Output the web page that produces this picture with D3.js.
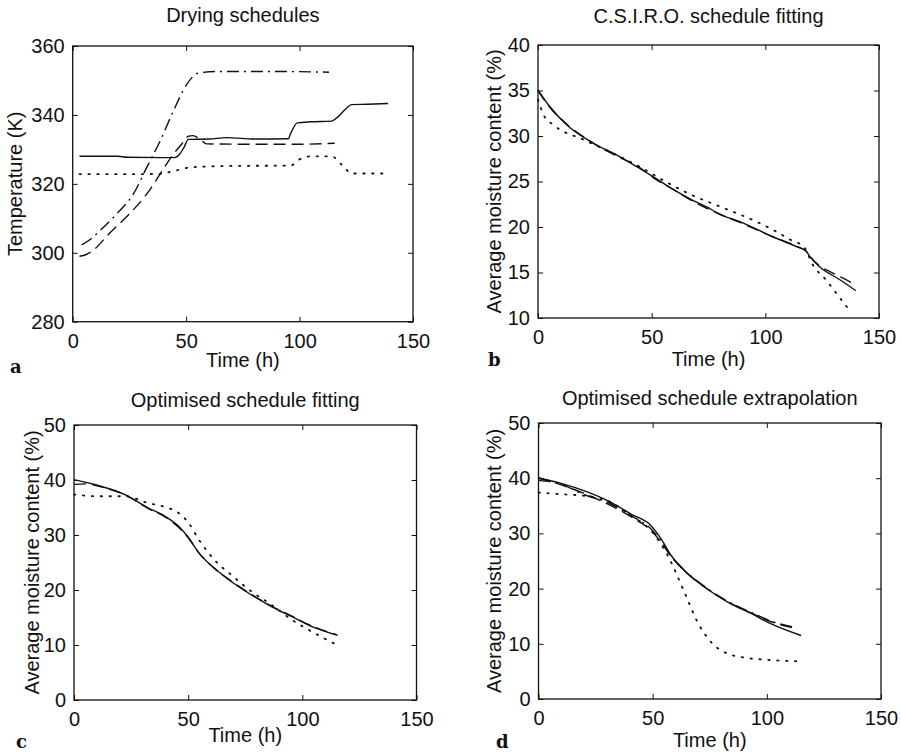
<!DOCTYPE html>
<html><head><meta charset="utf-8">
<script src="https://cdn.jsdelivr.net/npm/d3@7"></script>
<style>
body{margin:0;background:#fff}
svg{display:block}
text{font-family:"Liberation Sans",Arial,sans-serif;fill:#111}
</style>
</head><body>
<svg id="chart" width="902" height="756"></svg>
<script>
// ---------- DATA ----------
const timeTicks = [0, 50, 100, 150];
const tempTicks = [280, 300, 320, 340, 360];
const csiroTicks = [10, 15, 20, 25, 30, 35, 40];
const optTicks = [0, 10, 20, 30, 40, 50];

// Panel a: drying schedules [time h, temperature K]
const dryingSolid = [[3,328],[20,328],[24,327.7],[45,327.6],[47,328.5],[49,330.5],[51,332.9],[60,333],[68,333.4],[80,333],[95,333.1],[96,334.5],[99,337.7],[105,338],[114,338.2],[117,339.5],[120,341.5],[123,343],[130,343.1],[139,343.3]];
const dryingDashed = [[3,299],[6,299.5],[9,300.7],[16,305.5],[25,311.3],[32.6,317],[38.5,322.8],[44,328.3],[48,331.5],[51,333.8],[53,334],[56,333],[59,331.6],[80,331.5],[100,331.5],[115.5,331.8]];
const dryingDashDot = [[4,302.3],[8,304],[12,306.4],[19.4,311.3],[26.7,317],[32.6,324.7],[38.5,332.4],[44.3,341],[50.2,348.8],[55.3,352.1],[63,352.6],[90,352.6],[113,352.4]];
const dryingDotted = [[3,322.8],[20,322.8],[38,322.9],[45,323.8],[52,324.8],[70,325.2],[96,325.3],[100,327.1],[105,328],[114,328],[119,325.3],[123,323],[138,323]];

// Panel b: C.S.I.R.O. schedule fitting [time h, moisture %]
const csiroSolid = [[0,35.05],[5,33.3],[12.7,31.2],[24.4,29.2],[34.7,27.9],[44.9,26.4],[50.8,25.5],[59.6,24.1],[68.3,22.9],[74.2,22.2],[80,21.4],[88.8,20.6],[103.5,18.9],[113.7,17.84],[118.1,17.3],[119.6,16.74],[124,15.6],[132.8,14.2],[139.8,13.0]];
const csiroDashed = [[0,35.0],[5,33.2],[12.7,31.3],[24.4,29.2],[34.7,27.8],[44.9,26.5],[50.8,25.4],[59.6,24.1],[68.3,22.8],[80,21.4],[88.8,20.5],[103.5,18.9],[113.7,17.9],[118.1,17.3],[119.6,16.8],[124,15.7],[128.4,15.1],[134,14.4],[140,13.6]];
const csiroDotted = [[0,34.0],[2.5,32.3],[6.9,31.2],[20,29.6],[34.7,27.9],[44.9,26.6],[56.7,24.9],[66.9,23.6],[81.5,22.1],[96,20.6],[104,19.6],[111,18.6],[117,17.8],[121,15.8],[127,14.1],[132.8,12.2],[137.5,10.7]];

// Panel c: optimised schedule fitting
const fitSolid = [[0,40.06],[10.6,39.0],[22.3,37.35],[32.6,34.9],[39.9,33.4],[45.8,31.6],[50.2,29.5],[54.6,26.8],[61.9,23.8],[69.3,21.4],[78.1,19.0],[86.9,16.9],[95.7,15.1],[104.5,13.3],[115.5,11.75]];
const fitDashed = [[0,39.2],[5,39.3],[10.6,38.9],[22.3,37.3],[32.6,34.8],[39.9,33.3],[45.8,31.4],[50.2,29.4],[54.6,26.8],[61.9,23.8],[69.3,21.5],[78.1,19.1],[86.9,17.0],[95.7,15.2],[104.5,13.4],[115,11.9]];
const fitDotted = [[0,37.35],[10.6,37.05],[22.3,37.05],[32.6,35.8],[39.9,35.1],[45.8,34.0],[50.2,32.2],[54.6,29.2],[61.9,25.3],[69.3,22.6],[78.1,19.6],[86.9,17.2],[95.7,14.5],[104.5,12.35],[115.5,9.94]];

// Panel d: optimised schedule extrapolation
const extSolid = [[0,40.08],[9.9,39.06],[20.1,37.7],[30.4,35.9],[40.6,33.5],[49.3,31.4],[53.7,29.0],[58.1,26.0],[63.9,23.3],[72.7,20.3],[82.9,17.55],[93.1,15.5],[101.9,13.6],[115,11.5]];
const extDashed = [[0,40.0],[9.9,38.8],[20.1,37.2],[30.4,35.3],[40.6,33.0],[49.3,30.5],[53.7,28.4],[58.1,25.8],[63.9,23.2],[72.7,20.3],[82.9,17.6],[93.1,15.6],[101.9,14.0],[113.5,12.7]];
const extDashDot = [[0,39.6],[9.9,38.9],[20.1,37.0],[30.4,35.6],[40.6,33.2],[49.3,30.8],[53.7,28.6],[58.1,25.9],[63.9,23.3],[72.7,20.4],[82.9,17.7],[93.1,15.7],[101.9,14.1],[112,13.0]];
const extDotted = [[0,37.4],[9.9,37.1],[20.1,36.8],[30.4,35.9],[40.6,33.2],[49.3,30.5],[56.6,26.0],[63.9,19.35],[69.7,13.9],[75.6,10.3],[82.9,8.2],[88.7,7.6],[100,7.1],[113.5,6.85]];

// ---------- LAYOUT ----------
const svg = d3.select("#chart");
const styles = {
  solid:   {dash:null},
  dashed:  {dash:"12,6"},
  dashdot: {dash:"12,5,2,5"},
  dotted:  {dash:"1.4,7.5"}
};
const FS = 20;

const panels = [
  {letter:"a", title:"Drying schedules", ylabel:"Temperature (K)",
   box:{l:72.7,t:46,r:413,b:321.7}, ydom:[280,360], yt:tempTicks,
   ylabX:22, titleY:22, xlabY:367, letterPos:[10,373],
   series:[[dryingSolid,"solid"],[dryingDashed,"dashed"],[dryingDashDot,"dashdot"],[dryingDotted,"dotted"]]},
  {letter:"b", title:"C.S.I.R.O. schedule fitting", ylabel:"Average moisture content (%)",
   box:{l:538,t:45,r:879,b:318}, ydom:[10,40], yt:csiroTicks,
   ylabX:501, titleY:23, xlabY:366, letterPos:[488,366],
   series:[[csiroSolid,"solid"],[csiroDashed,"dashed"],[csiroDotted,"dotted"]]},
  {letter:"c", title:"Optimised schedule fitting", ylabel:"Average moisture content (%)",
   box:{l:74,t:425,r:416.5,b:700}, ydom:[0,50], yt:optTicks,
   ylabX:38.5, titleY:407, xlabY:742, letterPos:[16,748],
   series:[[fitSolid,"solid"],[fitDashed,"dashed"],[fitDotted,"dotted"]]},
  {letter:"d", title:"Optimised schedule extrapolation", ylabel:"Average moisture content (%)",
   box:{l:538.5,t:423,r:881,b:699}, ydom:[0,50], yt:optTicks,
   ylabX:501, titleY:405, xlabY:747, letterPos:[496,748],
   series:[[extSolid,"solid"],[extDashed,"dashed"],[extDashDot,"dashdot"],[extDotted,"dotted"]]}
];

panels.forEach(p => {
  const B = p.box, W = B.r - B.l, H = B.b - B.t;
  const x = d3.scaleLinear().domain([0,150]).range([B.l,B.r]);
  const y = d3.scaleLinear().domain(p.ydom).range([B.b,B.t]);
  const g = svg.append("g");

  // axes with inward ticks on all four sides
  const ax = (gen, tr) => {
    const a = g.append("g").attr("transform", tr).call(gen);
    a.select(".domain").remove();
    a.selectAll("line").attr("stroke","#111").attr("stroke-width",1);
    a.selectAll("text").attr("font-size",FS).attr("fill","#111")
      .style("font-family",'"Liberation Sans",Arial,sans-serif');
    return a;
  };
  ax(d3.axisBottom(x).tickValues(timeTicks).tickFormat(d3.format("d")).tickSizeInner(-5).tickSizeOuter(0).tickPadding(12), `translate(0,${B.b})`);
  ax(d3.axisTop(x).tickValues(timeTicks).tickFormat("").tickSizeInner(-5).tickSizeOuter(0), `translate(0,${B.t})`);
  ax(d3.axisLeft(y).tickValues(p.yt).tickFormat(d3.format("d")).tickSizeInner(-5).tickSizeOuter(0).tickPadding(8), `translate(${B.l},0)`);
  ax(d3.axisRight(y).tickValues(p.yt).tickFormat("").tickSizeInner(-5).tickSizeOuter(0), `translate(${B.r},0)`);

  // frame
  g.append("rect").attr("x",B.l).attr("y",B.t).attr("width",W).attr("height",H)
    .attr("fill","none").attr("stroke","#111").attr("stroke-width",1.3);

  // lines
  const line = d3.line().x(d=>x(d[0])).y(d=>y(d[1])).curve(d3.curveMonotoneX);
  p.series.forEach(([data, st]) => {
    g.append("path").datum(data).attr("d", line)
      .attr("fill","none").attr("stroke","#111")
      .attr("stroke-width", st==="dotted" ? 1.8 : 1.4)
      .attr("stroke-linecap", st==="dotted" ? "round" : "butt")
      .attr("stroke-dasharray", styles[st].dash);
  });

  // texts
  const cx = (B.l + B.r)/2, cy = (B.t + B.b)/2;
  g.append("text").attr("x",cx).attr("y",p.titleY).attr("text-anchor","middle")
    .attr("font-size",FS).text(p.title);
  g.append("text").attr("x",cx).attr("y",p.xlabY).attr("text-anchor","middle")
    .attr("font-size",FS).text("Time (h)");
  g.append("text").attr("transform",`translate(${p.ylabX},${cy}) rotate(-90)`)
    .attr("text-anchor","middle").attr("font-size",FS).text(p.ylabel);
  g.append("text").attr("x",p.letterPos[0]).attr("y",p.letterPos[1])
    .attr("font-size",18).attr("font-weight","bold")
    .style("font-family",'"DejaVu Serif","Liberation Serif",serif').text(p.letter);
});
</script>
</body></html>
